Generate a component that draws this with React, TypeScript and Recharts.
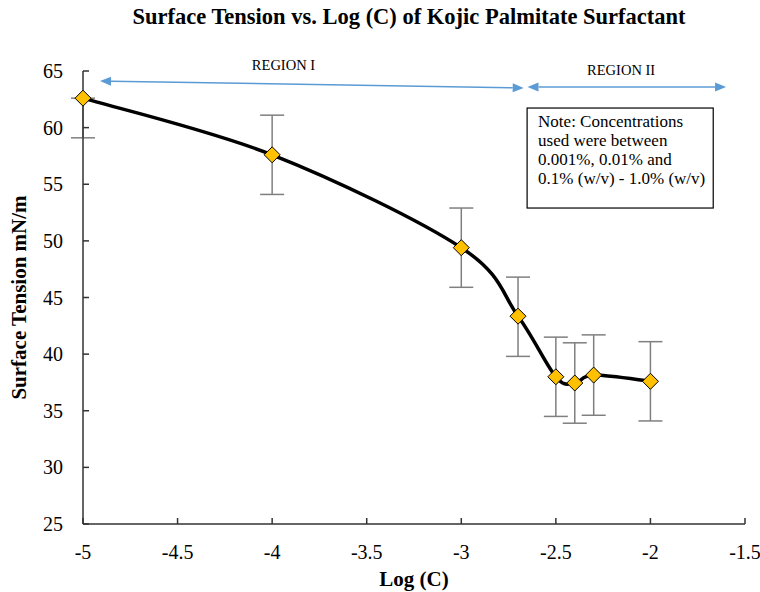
import React from 'react';
import {
    LineChart,
    Line,
    XAxis,
    YAxis,
    ErrorBar,
    ReferenceLine,
    ReferenceArea,
    ReferenceDot,
    Label
} from 'recharts';

const FONT = "'Liberation Serif', 'Times New Roman', serif";

// values
const logC = [-5, -4, -3, -2.7, -2.5, -2.4, -2.3, -2];
const surfaceTension = [62.6, 57.6, 49.4, 43.35, 38.0, 37.45, 38.15, 37.6];
const errLow = [3.5, 3.5, 3.5, 3.55, 3.5, 3.55, 3.55, 3.5];
const errHigh = [0, 3.5, 3.5, 3.45, 3.5, 3.55, 3.55, 3.5];

const xTicks = [-5, -4.5, -4, -3.5, -3, -2.5, -2, -1.5];
const yTicks = [25, 30, 35, 40, 45, 50, 55, 60, 65];

const regionNames = ['REGION I', 'REGION II'];
const regionLabelX = [-3.94, -2.155];
const regionLabelY = [65.1, 64.65];
const regionArrowFrom = [[-4.91, 64.12], [-2.65, 63.59]];
const regionArrowTo = [[-2.67, 63.5], [-1.6, 63.59]];

const noteLines = [
    'Note: Concentrations',
    'used were between',
    '0.001%, 0.01% and',
    '0.1% (w/v) - 1.0% (w/v)'
];

const data = logC.map((x, i) => ({
    x,
    y: surfaceTension[i],
    err: [errLow[i], errHigh[i]]
}));

// spreadsheet style smoothed line (catmull-rom through the points)
const smoothCurve = (context: any) => {
    let pts: number[][] = [];
    return {
        areaStart() {},
        areaEnd() {},
        lineStart() {
            pts = [];
        },
        point(x: number, y: number) {
            pts.push([+x, +y]);
        },
        lineEnd() {
            if (!pts.length) return;
            context.moveTo(pts[0][0], pts[0][1]);
            for (let i = 0; i < pts.length - 1; i++) {
                const p0 = pts[i - 1] || pts[i];
                const p1 = pts[i];
                const p2 = pts[i + 1];
                const p3 = pts[i + 2] || p2;
                context.bezierCurveTo(
                    p1[0] + (p2[0] - p0[0]) / 6,
                    p1[1] + (p2[1] - p0[1]) / 6,
                    p2[0] - (p3[0] - p1[0]) / 6,
                    p2[1] - (p3[1] - p1[1]) / 6,
                    p2[0],
                    p2[1]
                );
            }
        }
    };
};

const Diamond = (props: any) => {
    const { cx, cy } = props;
    if (cx == null || cy == null) return null;
    const r = 8;
    return (
        <polygon
            points={`${cx},${cy - r} ${cx + r},${cy} ${cx},${cy + r} ${cx - r},${cy}`}
            fill="#FFC000"
            stroke="#000"
            strokeWidth={1}
        />
    );
};

const XTick = (props: any) => {
    const { x, y, payload } = props;
    return (
        <text x={x} y={y + 14} textAnchor="middle" fontFamily={FONT} fontSize={20} fill="#000">
            {payload.value}
        </text>
    );
};

const YTick = (props: any) => {
    const { x, y, payload } = props;
    return (
        <text x={x} y={y + 7} textAnchor="end" fontFamily={FONT} fontSize={20} fill="#000">
            {payload.value}
        </text>
    );
};

// double headed arrow between the two ends of the segment
const DoubleArrow = (props: any) => {
    const { x1, y1, x2, y2 } = props;
    const ang = Math.atan2(y2 - y1, x2 - x1);
    const len = 11;
    const half = 4.5;
    const cos = Math.cos(ang);
    const sin = Math.sin(ang);
    const head = (tx: number, ty: number, dir: number) => {
        const bx = tx - dir * len * cos;
        const by = ty - dir * len * sin;
        return `${tx},${ty} ${bx - half * sin},${by + half * cos} ${bx + half * sin},${by - half * cos}`;
    };
    return (
        <g>
            <line
                x1={x1 + len * cos}
                y1={y1 + len * sin}
                x2={x2 - len * cos}
                y2={y2 - len * sin}
                stroke="#5B9BD5"
                strokeWidth={1.5}
            />
            <polygon points={head(x1, y1, -1)} fill="#5B9BD5" />
            <polygon points={head(x2, y2, 1)} fill="#5B9BD5" />
        </g>
    );
};

const NoteBox = (props: any) => {
    const { x, y, width, height } = props;
    return (
        <g>
            <rect x={x} y={y} width={width} height={height} fill="#fff" stroke="#000" strokeWidth={1.2} />
            {noteLines.map((t, i) => (
                <text key={i} x={x + 11} y={y + 19 + i * 19} fontFamily={FONT} fontSize={17} fill="#000">
                    {t}
                </text>
            ))}
        </g>
    );
};

export default function App() {
    return (
        <div style={{ position: 'absolute', left: 0, top: 0, width: 760, height: 592, background: '#fff', fontFamily: FONT }}>
            <div
                style={{
                    position: 'absolute',
                    top: 5,
                    left: 0,
                    width: 760,
                    paddingLeft: 58,
                    boxSizing: 'border-box',
                    textAlign: 'center',
                    fontSize: 22.5,
                    lineHeight: '24px',
                    fontWeight: 'bold',
                    color: '#000'
                }}
            >
                Surface Tension vs. Log (C) of Kojic Palmitate Surfactant
            </div>
            <LineChart
                width={760}
                height={592}
                data={data}
                margin={{ top: 71, right: 15, bottom: 0, left: 0 }}
                style={{ position: 'absolute', left: 0, top: 0 }}
            >
                <XAxis
                    type="number"
                    dataKey="x"
                    domain={[-5, -1.5]}
                    ticks={xTicks}
                    height={68}
                    tickSize={-6}
                    tickMargin={27}
                    axisLine={{ stroke: '#333', strokeWidth: 1.5 }}
                    tickLine={{ stroke: '#333', strokeWidth: 1.5 }}
                    tick={<XTick />}
                >
                    <Label
                        content={({ viewBox }: any) => (
                            <text
                                x={viewBox.x + viewBox.width / 2}
                                y={viewBox.y + 62}
                                textAnchor="middle"
                                fontFamily={FONT}
                                fontSize={21}
                                fontWeight="bold"
                                fill="#000"
                            >
                                Log (C)
                            </text>
                        )}
                    />
                </XAxis>
                <YAxis
                    type="number"
                    domain={[25, 65]}
                    ticks={yTicks}
                    width={83}
                    tickSize={-6}
                    tickMargin={26}
                    axisLine={{ stroke: '#333', strokeWidth: 1.5 }}
                    tickLine={{ stroke: '#333', strokeWidth: 1.5 }}
                    tick={<YTick />}
                >
                    <Label
                        content={({ viewBox }: any) => {
                            const cx = 19;
                            const cy = viewBox.y + viewBox.height / 2;
                            return (
                                <text
                                    x={cx}
                                    y={cy}
                                    transform={`rotate(-90 ${cx} ${cy})`}
                                    textAnchor="middle"
                                    dominantBaseline="central"
                                    fontFamily={FONT}
                                    fontSize={21}
                                    fontWeight="bold"
                                    fill="#000"
                                >
                                    Surface Tension mN/m
                                </text>
                            );
                        }}
                    />
                </YAxis>
                {regionNames.map((name, i) => (
                    <ReferenceLine
                        key={`arrow-${name}`}
                        segment={[
                            { x: regionArrowFrom[i][0], y: regionArrowFrom[i][1] },
                            { x: regionArrowTo[i][0], y: regionArrowTo[i][1] }
                        ]}
                        ifOverflow="visible"
                        shape={DoubleArrow}
                    />
                ))}
                {regionNames.map((name, i) => (
                    <ReferenceDot
                        key={`label-${name}`}
                        x={regionLabelX[i]}
                        y={regionLabelY[i]}
                        ifOverflow="visible"
                        shape={(p: any) => (
                            <text x={p.cx} y={p.cy} textAnchor="middle" fontFamily={FONT} fontSize={14.5} fill="#000">
                                {name}
                            </text>
                        )}
                    />
                ))}
                <ReferenceArea
                    x1={-2.652}
                    x2={-1.668}
                    y1={52.9}
                    y2={61.73}
                    ifOverflow="visible"
                    shape={NoteBox}
                />
                <Line
                    type={smoothCurve as any}
                    dataKey="y"
                    stroke="#000"
                    strokeWidth={3.5}
                    dot={<Diamond />}
                    activeDot={false}
                    isAnimationActive={false}
                >
                    <ErrorBar dataKey="err" direction="y" width={12} stroke="#7f7f7f" strokeWidth={1.5} />
                </Line>
            </LineChart>
        </div>
    );
}
